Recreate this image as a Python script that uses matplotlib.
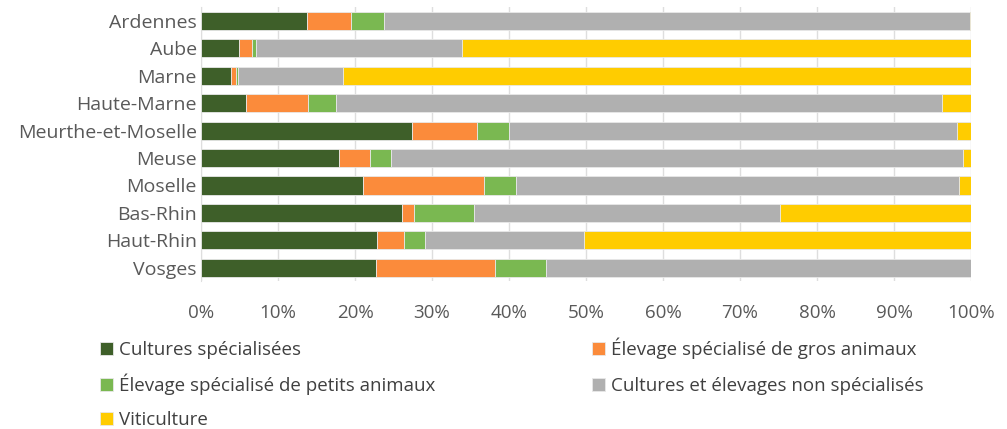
import matplotlib
matplotlib.use('Agg')
import numpy as np
import matplotlib.pyplot as plt
from matplotlib.ticker import PercentFormatter

plt.rcParams['font.family'] = ['Open Sans', 'DejaVu Sans']

departements = ['Ardennes', 'Aube', 'Marne', 'Haute-Marne', 'Meurthe-et-Moselle',
                'Meuse', 'Moselle', 'Bas-Rhin', 'Haut-Rhin', 'Vosges']

# parts en %
cultures_spe = [13.8, 4.9, 3.9, 5.9, 27.4, 17.9, 21.0, 26.1, 22.9, 22.7]
gros_animaux = [5.7, 1.7, 0.6, 8.0, 8.4, 4.0, 15.7, 1.6, 3.5, 15.5]
petits_animaux = [4.3, 0.5, 0.3, 3.6, 4.2, 2.8, 4.2, 7.7, 2.7, 6.6]
non_spe = [76.0, 26.8, 13.7, 78.7, 58.2, 74.3, 57.6, 39.8, 20.6, 55.2]
viticulture = [0.2, 66.1, 81.5, 3.8, 1.8, 1.0, 1.5, 24.8, 50.3, 0.0]

series = [cultures_spe, gros_animaux, petits_animaux, non_spe, viticulture]
noms = ['Cultures spécialisées', 'Élevage spécialisé de gros animaux',
        'Élevage spécialisé de petits animaux', 'Cultures et élevages non spécialisés',
        'Viticulture']
couleurs = ['#3e5f29', '#fb8b3b', '#7ab851', '#b0b0b0', '#ffcc00']

W, H = 1007, 429
fig = plt.figure(figsize=(W / 100, H / 100), dpi=100)
ax = fig.add_axes([0.1996, 0.344, 0.7647, 0.639])

y = np.arange(len(departements))
left = np.zeros(len(departements))
barres = []
for vals, nom, c in zip(series, noms, couleurs):
    b = ax.barh(y, vals, left=left, height=0.66, color=c, label=nom,
                edgecolor='#e8e8e8', linewidth=0.6, zorder=3)
    barres.append(b)
    left += np.array(vals)

ax.set_ylim(len(departements) - 0.5, -0.5)
ax.set_yticks(y)
ax.set_yticklabels(departements)
ax.set_xlim(0, 100)
ax.set_xticks(np.arange(0, 101, 10))
ax.xaxis.set_major_formatter(PercentFormatter(decimals=0))
ax.grid(axis='x', color='#dedede', linewidth=1, zorder=0)
ax.tick_params(length=0, labelsize=13.5, colors='#595959')
ax.tick_params(axis='y', labelsize=14, pad=3)
ax.tick_params(axis='x', pad=16)
for s in ['top', 'right', 'bottom']:
    ax.spines[s].set_visible(False)
ax.spines['left'].set_color('#dedede')

# une légende par entrée, calée par le bas pour aligner les lignes (pixels)
pos_legende = [(100, 359), (592, 359), (100, 395), (592, 395), (100, 429)]
for (px, py), b, nom in zip(pos_legende, barres, noms):
    fig.legend([b], [nom], loc='lower left',
               bbox_to_anchor=(px / W, 1 - py / H),
               frameon=False, fontsize=13.5, labelcolor='#404040',
               handlelength=0.7, handleheight=0.7, handletextpad=0.3,
               borderaxespad=0, borderpad=0)

fig.savefig('out.png', dpi=100)
